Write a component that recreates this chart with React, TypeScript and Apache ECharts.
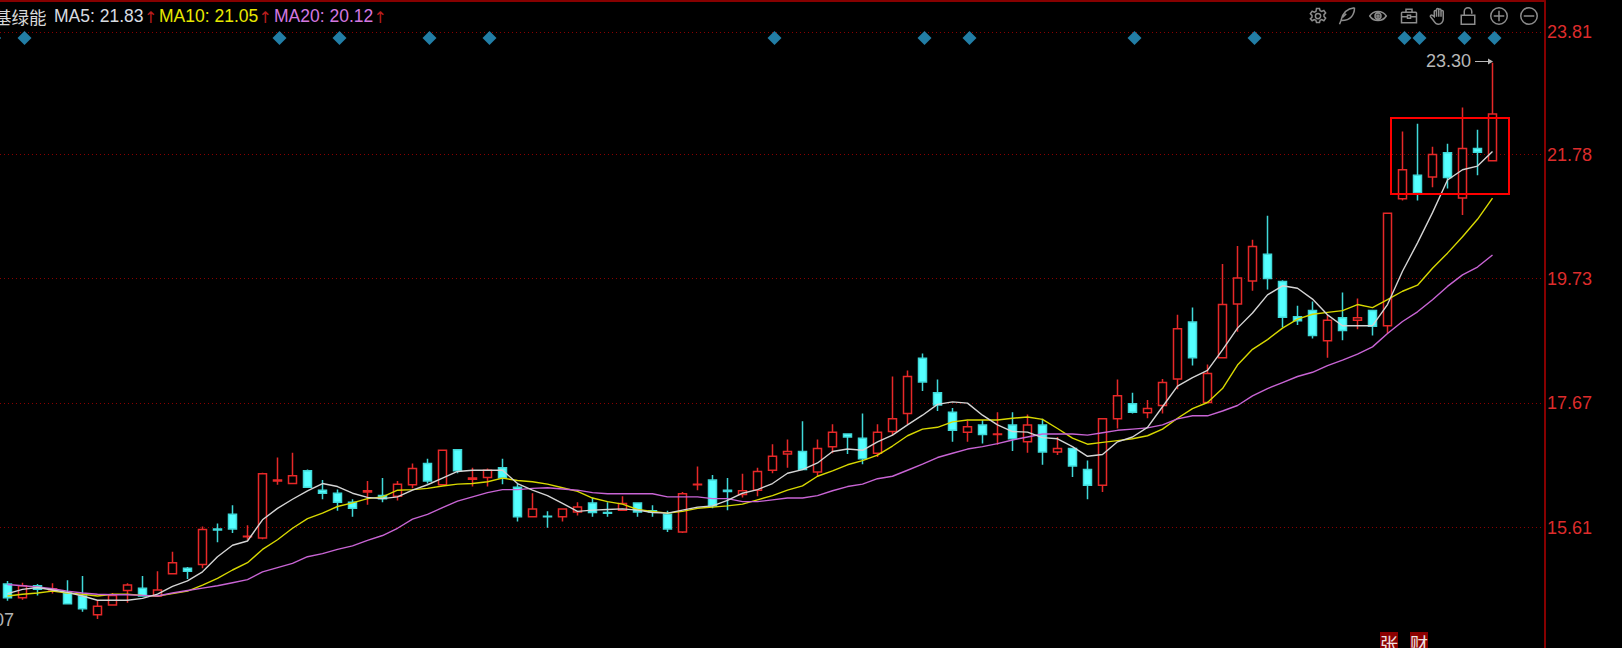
import React, { useEffect, useRef } from "react";
import * as echarts from "echarts";

const opens = [14.68,14.45,14.65,14.58,14.53,14.48,14.17,14.33,14.57,14.61,14.48,14.85,14.94,15.00,15.59,15.83,15.46,15.44,16.38,16.34,16.55,16.23,16.18,16.03,16.20,16.14,16.13,16.32,16.67,16.32,16.90,16.41,16.44,16.60,16.28,15.79,15.80,15.79,15.87,16.02,15.86,15.90,16.02,15.89,15.83,15.54,16.32,16.40,16.23,16.16,16.23,16.56,16.83,16.87,16.53,16.95,17.16,17.09,16.84,17.20,17.50,18.41,17.84,17.52,17.19,17.31,17.15,17.31,17.03,17.31,16.86,16.92,16.57,16.31,17.41,17.66,17.51,17.63,18.07,19.01,17.68,18.42,19.31,19.69,20.13,19.68,19.10,19.20,18.70,19.08,19.04,19.20,18.95,21.05,21.44,21.41,21.81,21.06,21.88,21.68];
const closes = [14.45,14.65,14.59,14.60,14.35,14.27,14.31,14.49,14.66,14.48,14.58,15.03,14.89,15.58,15.57,15.59,15.47,16.50,16.40,16.47,16.28,16.18,16.03,15.93,16.22,16.09,16.33,16.59,16.38,16.89,16.55,16.43,16.56,16.43,15.79,15.92,15.79,15.92,15.95,15.86,15.85,16.01,15.87,15.87,15.59,16.17,16.33,15.97,16.21,16.22,16.54,16.79,16.87,16.57,16.92,17.19,17.11,16.75,17.19,17.41,18.11,18.02,17.64,17.22,17.28,17.15,17.16,17.08,17.31,16.86,16.92,16.63,16.31,17.41,17.79,17.52,17.58,18.01,18.90,18.42,18.16,19.30,19.74,20.26,19.73,19.09,19.03,18.79,19.04,18.87,19.08,18.94,20.81,21.53,21.15,21.78,21.40,21.88,21.82,22.45];
const lows = [14.40,14.42,14.49,14.52,14.35,14.22,14.10,14.33,14.37,14.48,14.48,14.85,14.76,14.94,15.37,15.52,15.41,15.42,16.32,16.34,16.28,16.08,15.89,15.79,15.99,16.03,16.06,16.26,16.34,16.32,16.51,16.29,16.29,16.33,15.71,15.79,15.61,15.71,15.81,15.79,15.79,15.89,15.79,15.79,15.54,15.52,16.23,15.93,15.90,16.11,16.13,16.51,16.60,16.57,16.46,16.84,16.83,16.66,16.78,17.14,17.32,17.87,17.54,17.03,17.03,17.00,16.98,16.88,16.85,16.65,16.81,16.45,16.08,16.20,17.25,17.50,17.42,17.50,17.90,18.29,17.68,18.42,18.85,19.53,19.55,18.92,18.96,18.74,18.42,18.71,18.89,18.79,18.82,21.02,21.02,21.24,21.22,20.78,21.44,21.68];
const highs = [14.73,14.70,14.68,14.69,14.74,14.81,14.41,14.53,14.69,14.81,14.89,15.21,14.96,15.63,15.68,15.98,15.65,16.52,16.77,16.85,16.57,16.40,16.24,16.08,16.38,16.43,16.38,16.67,16.75,16.89,16.90,16.60,16.59,16.75,16.34,16.18,15.88,15.92,16.03,16.11,16.03,16.13,16.02,15.98,15.89,16.20,16.62,16.48,16.43,16.50,16.60,16.99,17.07,17.37,17.07,17.32,17.16,17.50,17.32,18.11,18.21,18.49,18.06,17.59,17.38,17.39,17.52,17.52,17.48,17.41,17.11,16.92,16.72,17.41,18.06,17.84,17.72,18.07,19.13,19.25,18.31,19.97,20.27,20.37,20.77,19.70,19.28,19.35,19.13,19.50,19.40,19.20,20.81,22.16,22.29,21.91,21.96,22.56,22.19,23.30];
const ma5 = [14.52,14.59,14.62,14.58,14.54,14.48,14.41,14.41,14.41,14.44,14.51,14.64,14.73,14.88,15.13,15.32,15.39,15.74,15.93,16.08,16.22,16.34,16.29,16.18,16.11,16.09,16.12,16.23,16.32,16.43,16.54,16.56,16.56,16.56,16.34,16.23,16.14,16.01,15.88,15.90,15.91,15.92,15.90,15.86,15.85,15.90,15.95,15.97,16.06,16.18,16.24,16.34,16.51,16.57,16.68,16.87,16.91,16.89,17.03,17.14,17.31,17.47,17.65,17.69,17.67,17.47,17.31,17.20,17.19,17.10,17.08,16.95,16.79,16.82,17.03,17.11,17.27,17.61,17.95,18.09,18.21,18.55,18.91,19.16,19.46,19.61,19.57,19.39,19.13,18.95,18.95,18.95,19.30,19.85,20.32,20.82,21.36,21.53,21.59,21.83];
const ma10 = [14.48,14.51,14.53,14.56,14.53,14.51,14.48,14.51,14.51,14.49,14.48,14.52,14.56,14.66,14.77,14.91,15.03,15.25,15.41,15.60,15.76,15.85,15.96,16.02,16.09,16.12,16.23,16.24,16.26,16.30,16.33,16.34,16.37,16.43,16.39,16.37,16.33,16.27,16.21,16.10,16.04,16.00,15.91,15.88,15.85,15.88,15.93,15.95,15.97,16.00,16.07,16.14,16.23,16.30,16.46,16.55,16.65,16.72,16.81,16.96,17.13,17.24,17.27,17.36,17.39,17.39,17.39,17.42,17.44,17.40,17.25,17.09,16.99,17.02,17.05,17.08,17.13,17.24,17.42,17.58,17.68,17.91,18.30,18.56,18.72,18.91,19.06,19.14,19.17,19.20,19.30,19.25,19.38,19.52,19.62,19.90,20.15,20.42,20.71,21.06];
const ma20 = [14.67,14.65,14.63,14.60,14.56,14.53,14.51,14.50,14.50,14.49,14.48,14.53,14.57,14.61,14.65,14.70,14.75,14.88,14.95,15.02,15.13,15.18,15.25,15.31,15.40,15.48,15.60,15.75,15.83,15.94,16.05,16.12,16.19,16.24,16.24,16.26,16.27,16.25,16.23,16.19,16.17,16.17,16.17,16.17,16.12,16.12,16.12,16.09,16.09,16.04,16.04,16.07,16.10,16.10,16.14,16.22,16.29,16.33,16.42,16.46,16.56,16.66,16.77,16.84,16.91,16.95,17.00,17.06,17.11,17.16,17.16,17.16,17.14,17.18,17.22,17.24,17.26,17.31,17.41,17.46,17.46,17.54,17.63,17.79,17.91,18.01,18.11,18.18,18.29,18.38,18.48,18.60,18.82,19.02,19.18,19.38,19.60,19.79,19.92,20.12];
const diamondIndexes = [1,18,22,28,32,51,61,64,75,83,93,94,97,99];
const diamondPrice = 23.71;
const tickLabels = [15.61,17.67,19.73,21.78,23.81];
const categories = Array.from({ length: 103 }, (_, i) => String(i));
const titleName = "基绿能";
const ma5Label = "MA5: 21.83";
const ma10Label = "MA10: 21.05";
const ma20Label = "MA20: 20.12";
const peakLabel = "23.30";

const icons: Record<string, string> = {
  gear: "M10 2h4l.8 3 2.2 1 2.8-1.5 2.4 3.5-2.2 2.2v2.4l2.2 2.2-2.4 3.5-2.8-1.5-2.2 1-.8 3h-4l-.8-3-2.2-1-2.8 1.5L1.8 15.8 4 13.6v-2.4L1.8 9l2.4-3.5L7 7l2.2-1zM15.5 12a3.5 3.5 0 1 1-7 0a3.5 3.5 0 1 1 7 0z",
  feather: "M22 1C12 2 6 8 4 18L2 23M22 1C22 10 17 18 5 18M6 14L11 9",
  eye: "M1 12C6 4 18 4 23 12C18 20 6 20 1 12zM16 12a4 4 0 1 1-8 0a4 4 0 1 1 8 0zM13.5 12a1.5 1.5 0 1 1-3 0a1.5 1.5 0 1 1 3 0z",
  box: "M3 7h18a1 1 0 0 1 1 1v13H2V8a1 1 0 0 1 1-1zM8 7V3h8v4M2 13h8M14 13h8M10 11h4v4h-4z",
  hand: "M7 13V6a1.5 1.5 0 0 1 3 0V3.5a1.5 1.5 0 0 1 3 0V4a1.5 1.5 0 0 1 3 0V6a1.5 1.5 0 0 1 3 0V16c0 4-3 7-6.5 7S8 21 6 18L2 13c-1-1.5 1-3 2.5-2L7 13zM10 6v7M13 4v9M16 6v7",
  lock: "M3 11h18v12H3zM7 11V6a5 5 0 0 1 10 0v3",
  plus: "M23 12a11 11 0 1 1-22 0a11 11 0 1 1 22 0zM12 5v14M5 12h14",
  minus: "M23 12a11 11 0 1 1-22 0a11 11 0 1 1 22 0zM5 12h14",
};
Object.keys(icons).forEach((k) => {
  echarts.graphic.registerShape("icon-" + k, echarts.graphic.extendPath(icons[k], {}) as any);
});
const iconSpots: [string, number, number][] = [
  ["gear", 1318, 16], ["feather", 1347, 16], ["eye", 1378, 16], ["box", 1409, 16],
  ["hand", 1438, 16], ["lock", 1468, 16], ["plus", 1499, 16], ["minus", 1529, 16],
];

const SANS = '"Liberation Sans", Arial, sans-serif';
const CJK = '"Noto Sans CJK SC", sans-serif';
const DEJAVU = '"DejaVu Sans", sans-serif';

function txt(text: string, x: number, y: number, fill: string, fontSize: number, family = SANS, align = "left") {
  return {
    type: "text", x, y, z: 20, silent: true,
    style: { text, fill, fontSize, fontFamily: family, align, verticalAlign: "middle" },
  };
}

export default function App() {
  const ref = useRef<HTMLDivElement>(null);
  useEffect(() => {
    const chart = echarts.init(ref.current!, null, { renderer: "svg" });
    const graphic: any[] = [
      { type: "polygon", z: 20, silent: true, shape: { points: [[-5.5, 31.5], [1, 38], [-5.5, 44.5], [-12, 38]] }, style: { fill: "#2a9dcf" } },
      txt(titleName, -6, 16, "#d8d8d8", 17.5, CJK),
      txt(ma5Label, 54, 16, "#d8dce0", 17.5),
      txt("↑", 144, 17, "#b81e1e", 16, DEJAVU),
      txt(ma10Label, 159, 16, "#e8e800", 17.5),
      txt("↑", 258.5, 17, "#b81e1e", 16, DEJAVU),
      txt(ma20Label, 274, 16, "#d478e0", 17.5),
      txt("↑", 373.5, 17, "#b81e1e", 16, DEJAVU),
      txt(peakLabel, 1471, 61, "#b8b8b8", 18, SANS, "right"),
      { type: "line", z: 20, silent: true, shape: { x1: 1475, y1: 61.5, x2: 1489, y2: 61.5 }, style: { stroke: "#b8b8b8", lineWidth: 1 } },
      { type: "polygon", z: 20, silent: true, shape: { points: [[1488, 58.5], [1493, 61.5], [1488, 64.5]] }, style: { fill: "#b8b8b8" } },
      { type: "rect", z: 20, silent: true, shape: { x: 1391, y: 118, width: 118, height: 76 }, style: { fill: "none", stroke: "#ff0000", lineWidth: 2 } },
      txt("07", 14, 620, "#b4b4b4", 18, SANS, "right"),
      { type: "rect", z: 19, silent: true, shape: { x: 1380, y: 632, width: 18, height: 16 }, style: { fill: "#8b0000" } },
      { type: "rect", z: 19, silent: true, shape: { x: 1410, y: 632, width: 18, height: 16 }, style: { fill: "#8b0000" } },
      txt("张", 1389, 643, "#f0e0e0", 18, CJK, "center"),
      txt("财", 1419, 643, "#f0e0e0", 18, CJK, "center"),
    ];
    iconSpots.forEach(([name, cx, cy]) => {
      graphic.push({
        type: "icon-" + name, x: cx - 9, y: cy - 9, scaleX: 0.75, scaleY: 0.75, z: 20, silent: true,
        style: { fill: "none", stroke: "#8c8c8c", lineWidth: 2 },
      });
    });
    chart.setOption({
      animation: false,
      backgroundColor: "#000000",
      grid: { left: 0, top: 1, width: 1545, bottom: 0, containLabel: false },
      xAxis: {
        type: "category", data: categories, position: "top", boundaryGap: true,
        axisLine: { show: true, onZero: false, lineStyle: { color: "#860000", width: 2 } },
        axisTick: { show: false }, axisLabel: { show: false }, splitLine: { show: false },
      },
      yAxis: {
        type: "value", position: "right", min: 13.62, max: 24.32, scale: true,
        axisLine: { show: true, onZero: false, lineStyle: { color: "#860000", width: 2 } },
        axisTick: { show: false, customValues: tickLabels },
        axisLabel: {
          show: true, customValues: tickLabels, margin: 2, color: "#dd2c2c", fontSize: 18,
          fontFamily: SANS, formatter: (v: number) => v.toFixed(2),
        },
        splitLine: { show: true, lineStyle: { color: "#8a0000", width: 1, type: [1, 3] } },
      },
      series: [
        {
          type: "candlestick", barWidth: 9, z: 2,
          data: opens.map((o, i) => [o, closes[i], lows[i], highs[i]]),
          itemStyle: { color: "#000000", color0: "#54ffff", borderColor: "#e62828", borderColor0: "#3fd8d8", borderWidth: 1.5 },
        },
        { type: "line", data: ma5, showSymbol: false, z: 4, lineStyle: { color: "#d4d4d4", width: 1.4 } },
        { type: "line", data: ma10, showSymbol: false, z: 3, lineStyle: { color: "#d8d800", width: 1.4 } },
        { type: "line", data: ma20, showSymbol: false, z: 3, lineStyle: { color: "#c864d4", width: 1.4 } },
        {
          type: "scatter", symbol: "diamond", symbolSize: 14, symbolOffset: [2, 0], z: 5,
          data: diamondIndexes.map((i) => [i, diamondPrice]),
          itemStyle: { color: "#2a9dcf" },
        },
      ],
      graphic,
    });
    return () => chart.dispose();
  }, []);
  return <div ref={ref} style={{ position: "absolute", left: 0, top: 0, width: 1622, height: 648, background: "#000" }} />;
}
